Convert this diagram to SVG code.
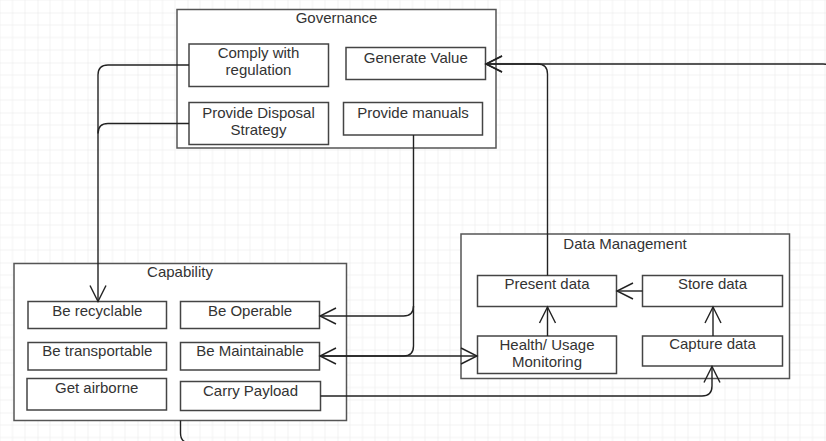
<svg xmlns="http://www.w3.org/2000/svg" width="826" height="441" viewBox="0 0 826 441">
  <defs>
    <pattern id="grid" patternUnits="userSpaceOnUse" x="37.5" y="12.5" width="50" height="50">
      <path d="M12.5 0V50M25 0V50M37.5 0V50M0 12.5H50M0 25H50M0 37.5H50" stroke="#f2f2f2" stroke-width="1" fill="none"/>
      <path d="M0 0V50M0 0H50" stroke="#e6e6e6" stroke-width="1" fill="none"/>
    </pattern>
    <marker id="open" viewBox="0 0 20 20" refX="18" refY="10" markerWidth="20" markerHeight="20" markerUnits="userSpaceOnUse" orient="auto-start-reverse">
      <path d="M2 2L18 10L2 18" fill="none" stroke="#222" stroke-width="1.4"/>
    </marker>
    <style>
      .box { fill: #fff; stroke: #444; stroke-width: 1.5; }
      .group { fill: #fff; stroke: #555; stroke-width: 1.5; }
      text { font-family: "Liberation Sans", Arial, sans-serif; font-size: 15px; fill: #333; text-anchor: middle; }
      .edge { fill: none; stroke: #222; stroke-width: 1.4; }
    </style>
  </defs>

  <rect width="826" height="441" fill="#fff"/>
  <rect width="826" height="441" fill="url(#grid)"/>

  <!-- Governance -->
  <g id="governance">
    <rect class="group" x="177" y="9.5" width="319" height="138.5"/>
    <text x="336.5" y="23">Governance</text>
  </g>
  <g id="comply">
    <rect class="box" x="189" y="44" width="139.5" height="42.5"/>
    <text x="258.5" y="58">Comply with</text>
    <text x="258.5" y="75">regulation</text>
  </g>
  <g id="generate-value">
    <rect class="box" x="346" y="47.5" width="139.5" height="32"/>
    <text x="415.8" y="63">Generate Value</text>
  </g>
  <g id="disposal">
    <rect class="box" x="189" y="102.5" width="139.5" height="42"/>
    <text x="258.5" y="118">Provide Disposal</text>
    <text x="258.5" y="135">Strategy</text>
  </g>
  <g id="manuals">
    <rect class="box" x="343.5" y="102.5" width="139" height="32.5"/>
    <text x="413" y="118">Provide manuals</text>
  </g>

  <!-- Capability -->
  <g id="capability">
    <rect class="group" x="14" y="263.5" width="332.5" height="157"/>
    <text x="180" y="277">Capability</text>
  </g>
  <g id="recyclable">
    <rect class="box" x="28" y="301.5" width="138.5" height="27"/>
    <text x="97.3" y="316">Be recyclable</text>
  </g>
  <g id="operable">
    <rect class="box" x="180.5" y="301.5" width="139" height="27"/>
    <text x="250" y="316">Be Operable</text>
  </g>
  <g id="transportable">
    <rect class="box" x="28" y="342.5" width="138.5" height="27.5"/>
    <text x="97.3" y="356">Be transportable</text>
  </g>
  <g id="maintainable">
    <rect class="box" x="180.5" y="342.5" width="139" height="27.5"/>
    <text x="250" y="356">Be Maintainable</text>
  </g>
  <g id="airborne">
    <rect class="box" x="27" y="378.5" width="139.5" height="31.5"/>
    <text x="96.7" y="392.5">Get airborne</text>
  </g>
  <g id="payload">
    <rect class="box" x="180.5" y="381.5" width="140" height="29"/>
    <text x="250.5" y="396">Carry Payload</text>
  </g>

  <!-- Data Management -->
  <g id="data-management">
    <rect class="group" x="461" y="234" width="328.5" height="144.5"/>
    <text x="625" y="249">Data Management</text>
  </g>
  <g id="present">
    <rect class="box" x="477.5" y="275.5" width="139" height="31"/>
    <text x="547" y="289">Present data</text>
  </g>
  <g id="store">
    <rect class="box" x="642.5" y="275.5" width="140" height="31"/>
    <text x="712.5" y="289">Store data</text>
  </g>
  <g id="health">
    <rect class="box" x="477.5" y="336" width="139" height="37.5"/>
    <text x="547" y="350">Health/ Usage</text>
    <text x="547" y="367">Monitoring</text>
  </g>
  <g id="capture">
    <rect class="box" x="642.5" y="336" width="140" height="30"/>
    <text x="712.5" y="349">Capture data</text>
  </g>

  <!-- Connectors -->
  <g id="connectors">
    <path class="edge" d="M189 65H108Q98 65 98 75V301.5" marker-end="url(#open)"/>
    <path class="edge" d="M189 123.5H108Q98 123.5 98 133.5"/>
    <path class="edge" d="M413.5 135V306Q413.5 316 403.5 316H320" marker-end="url(#open)"/>
    <path class="edge" d="M413.5 306V346Q413.5 356 403.5 356H320" marker-end="url(#open)"/>
    <path class="edge" d="M320 356H477" marker-end="url(#open)"/>
    <path class="edge" d="M547.5 275.5V74Q547.5 64 537.5 64H486" marker-end="url(#open)"/>
    <path class="edge" d="M180.5 420.5V433Q180.5 443 190.5 443H823Q833 443 833 433V74Q833 64 823 64H486" marker-end="url(#open)"/>
    <path class="edge" d="M320.5 396H702Q712 396 712 386V366.5" marker-end="url(#open)"/>
    <path class="edge" d="M642.5 291H617" marker-end="url(#open)"/>
    <path class="edge" d="M547.5 336V307" marker-end="url(#open)"/>
    <path class="edge" d="M713 336V307" marker-end="url(#open)"/>
  </g>
</svg>
